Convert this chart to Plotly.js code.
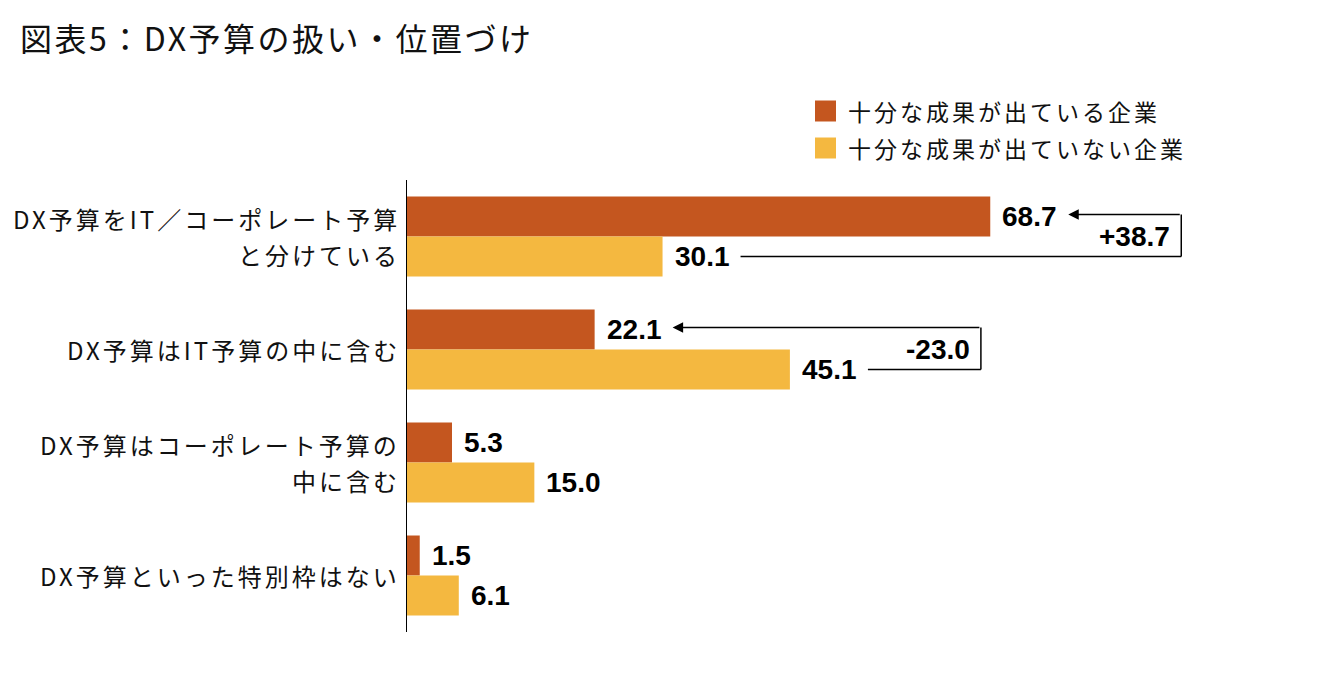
<!DOCTYPE html>
<html>
<head>
<meta charset="utf-8">
<script src="https://cdn.plot.ly/plotly-3.0.1.min.js"></script>
<style>html,body{margin:0;padding:0;background:#fff;}</style>
</head>
<body>
<div id="chart" style="width:1334px;height:674px;"></div>
<script>
// ---- data ----
const titleText = "図表5：DX予算の扱い・位置づけ";
const categoryLines = [
  ["DX予算をIT／コーポレート予算", "と分けている"],
  ["DX予算はIT予算の中に含む"],
  ["DX予算はコーポレート予算の", "中に含む"],
  ["DX予算といった特別枠はない"]
];
const categories = categoryLines.map(l => l.join(""));
const seriesNames = ["十分な成果が出ている企業", "十分な成果が出ていない企業"];
const successValues = [68.7, 22.1, 5.3, 1.5];
const nonSuccessValues = [30.1, 45.1, 15.0, 6.1];
const diffLabels = ["+38.7", "-23.0"];   // shown for first two categories
const colors = ["#C4561F", "#F4B840"];

// ---- layout constants ----
const L = 407, R = 78, T = 180, B = 42, W = 1334, H = 674;
const plotW = W - L - R, plotH = H - T - B;
const xMax = 100;
const pxPerUnit = plotW / xMax;
const barHalf = 0.177;          // offset of each bar centre from category centre
const px2u = p => p / pxPerUnit;
const px2cat = p => p / (plotH / categories.length);

const catFont = {family: "Noto Sans CJK JP, Noto Sans, sans-serif", size: 24, color: "#111"};
const lgFont = {family: "Noto Sans CJK JP, Noto Sans, sans-serif", size: 23, color: "#111"};
const valFont = {family: "Liberation Sans, Arial, sans-serif", size: 28, color: "#000", weight: "bold"};
const ls = (t, s) => `<span style="letter-spacing:${s}px">${t}</span>`;

const traces = [
  {type: "bar", orientation: "h", name: seriesNames[0], y: categories, x: successValues,
   marker: {color: colors[0]}, hoverinfo: "none"},
  {type: "bar", orientation: "h", name: seriesNames[1], y: categories, x: nonSuccessValues,
   marker: {color: colors[1]}, hoverinfo: "none"}
];

const annotations = [];
const shapes = [];

// category labels (one annotation per line)
categoryLines.forEach((lines, i) => {
  const n = lines.length;
  lines.forEach((txt, k) => {
    const off = (k - (n - 1) / 2) * px2cat(36);
    annotations.push({
      text: ls(txt, 3), xref: "paper", x: 0, xanchor: "right", xshift: -5,
      yref: "y", y: i + off, yanchor: "middle", showarrow: false, font: catFont
    });
  });
});

// value labels
categories.forEach((c, i) => {
  annotations.push({text: "<b>" + successValues[i].toFixed(1) + "</b>", x: successValues[i], y: i - barHalf,
    xref: "x", yref: "y", xanchor: "left", yanchor: "middle", xshift: 10, showarrow: false, font: valFont});
  annotations.push({text: "<b>" + nonSuccessValues[i].toFixed(1) + "</b>", x: nonSuccessValues[i], y: i + barHalf,
    xref: "x", yref: "y", xanchor: "left", yanchor: "middle", xshift: 10, showarrow: false, font: valFont});
});

// difference brackets
diffLabels.forEach((lab, i) => {
  const a = successValues[i], b = nonSuccessValues[i];
  const right = Math.max(a, b) + px2u(191);
  const yTop = i - barHalf - px2cat(2), yBot = i + barHalf;
  const lineStyle = {color: "#000", width: 1.5};
  shapes.push({type: "line", xref: "x", yref: "y", x0: b + px2u(78), x1: right, y0: yBot, y1: yBot, line: lineStyle});
  shapes.push({type: "line", xref: "x", yref: "y", x0: right, x1: right, y0: yBot, y1: yTop, line: lineStyle});
  annotations.push({text: "", x: a + px2u(78), y: yTop, xref: "x", yref: "y",
    ax: right, ay: yTop, axref: "x", ayref: "y", showarrow: true,
    arrowhead: 2, arrowsize: 1.4, arrowwidth: 1.5, arrowcolor: "#000", standoff: 0});
  annotations.push({text: "<b>" + lab + "</b>", x: right, y: i, xref: "x", yref: "y", xanchor: "right", yanchor: "middle",
    xshift: -9, showarrow: false, font: valFont});
});

// manual legend
const lgX = p => (p - L) / plotW, lgY = p => (H - B - p) / plotH;
seriesNames.forEach((nm, k) => {
  const cy = 111 + k * 37;
  shapes.push({type: "rect", xref: "paper", yref: "paper", x0: lgX(815), x1: lgX(836),
    y0: lgY(cy + 10.5), y1: lgY(cy - 10.5), fillcolor: colors[k], line: {width: 0}});
  annotations.push({text: ls(nm, 3), xref: "paper", yref: "paper", x: lgX(846), y: lgY(cy),
    xanchor: "left", yanchor: "middle", showarrow: false, font: lgFont});
});

const layout = {
  width: W, height: H,
  margin: {l: L, r: R, t: T, b: B, pad: 0},
  paper_bgcolor: "#fff", plot_bgcolor: "#fff",
  title: {text: ls(titleText, 2.5), xref: "container", yref: "container", x: 20 / W, xanchor: "left",
    y: 1 - 40 / H, yanchor: "middle", font: {family: "Noto Sans CJK JP, sans-serif", size: 32, color: "#111"}},
  barmode: "group", bargap: 0.292, bargroupgap: 0,
  showlegend: false,
  xaxis: {range: [0, xMax], showgrid: false, zeroline: false, showline: false, showticklabels: false, ticks: "", fixedrange: true},
  yaxis: {autorange: "reversed", showgrid: false, zeroline: false, showline: true, linecolor: "#000", linewidth: 1.5,
    showticklabels: false, ticks: "", fixedrange: true},
  annotations: annotations,
  shapes: shapes
};

Plotly.newPlot("chart", traces, layout, {displayModeBar: false, staticPlot: true});
</script>
</body>
</html>
